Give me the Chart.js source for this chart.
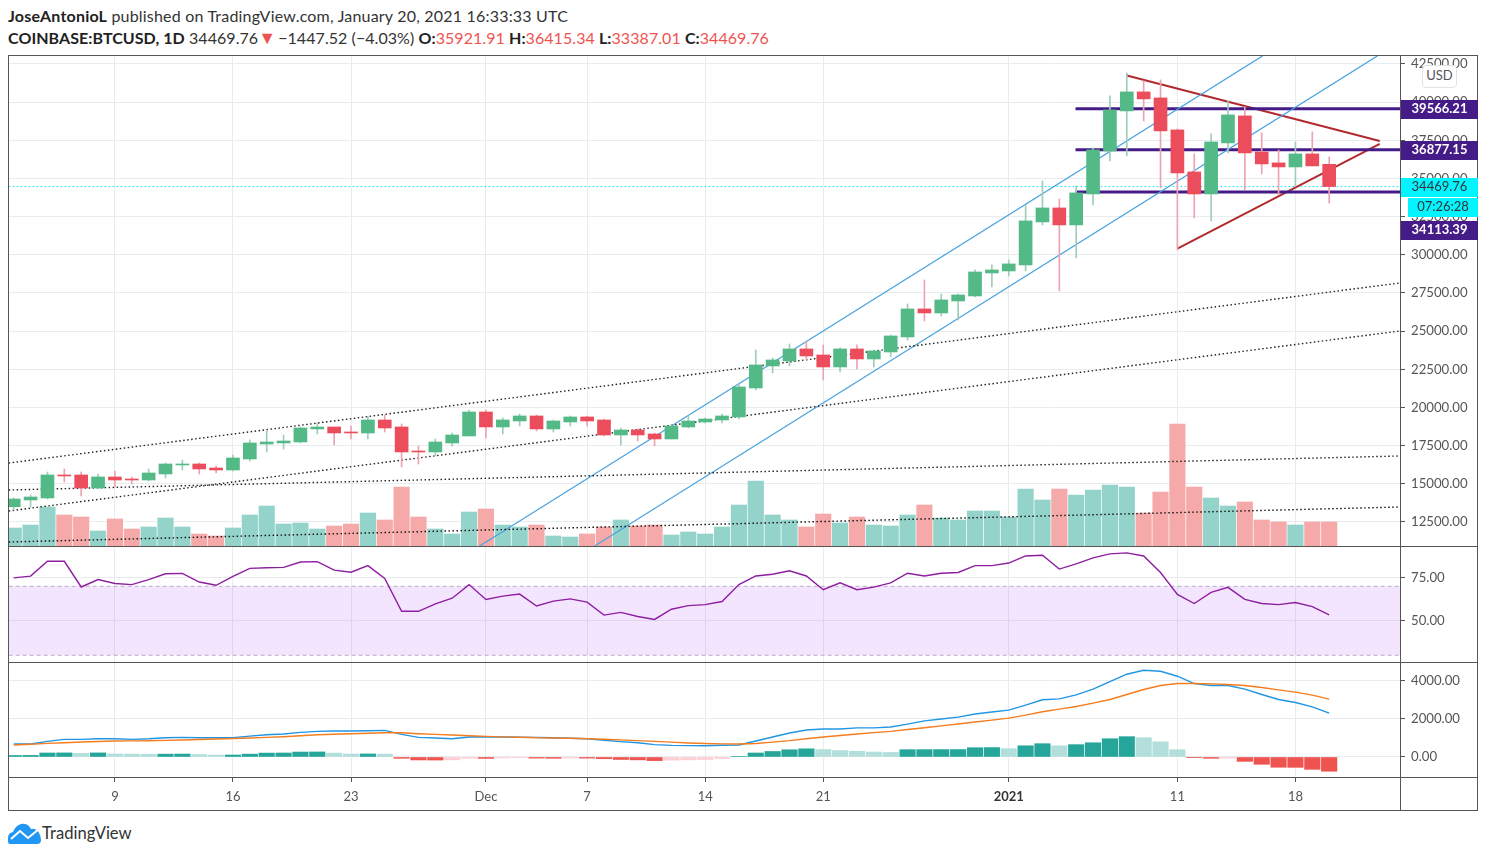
<!DOCTYPE html>
<html>
<head>
<meta charset="utf-8">
<title>BTCUSD</title>
<script src="https://cdn.jsdelivr.net/npm/chart.js@4"></script>
<style>
  body { margin: 0; background: #fff; font-family: Lato, sans-serif; color: #333; }
  canvas { position: absolute; left: 9px; }
  .head { position: absolute; left: 8px; font-size: 16px; white-space: nowrap; line-height: 20px; }
  .head b { font-weight: 700; color: #222; }
  .head i { font-style: normal; color: #ef5350; }
  .rule { position: absolute; background: #555; }
  .tag { position: absolute; left: 1401px; width: 77px; height: 19px; line-height: 17px; font-size: 13px; text-align: center; }
  .purple { background: #451b87; color: #fff; font-weight: 700; }
  .cyan { background: #00f5ff; color: #333; }
  #usd { position: absolute; left: 1422px; top: 65px; width: 33px; height: 21px; line-height: 18px; font-size: 13px; text-align: center;
         background: #fff; border: 1px solid #dfe3e6; border-radius: 4px; color: #555; }
  #logo { position: absolute; left: 8px; top: 823px; }
  #brand { position: absolute; left: 42px; top: 823px; font-size: 16.6px; line-height: 20px; color: #333; }
</style>
</head>
<body>
<div class="head" style="top:6px;letter-spacing:.2px"><b>JoseAntonioL</b> published on TradingView.com, January 20, 2021 16:33:33 UTC</div>
<div class="head" style="top:28px;letter-spacing:.06px"><b>COINBASE:BTCUSD, 1D</b> 34469.76<i style="font-size:18px;line-height:16px;letter-spacing:-2px">▼</i> −1447.52 (−4.03%) <b>O:</b><i>35921.91</i> <b>H:</b><i>36415.34</i> <b>L:</b><i>33387.01</i> <b>C:</b><i>34469.76</i></div>

<canvas id="price_chart" width="1469" height="490" style="top:56px"></canvas>
<canvas id="rsi_chart" width="1469" height="115" style="top:547px"></canvas>
<canvas id="macd_chart" width="1469" height="147" style="top:663px"></canvas>

<div class="rule" style="left:8px;top:55px;width:1470px;height:1px"></div>
<div class="rule" style="left:8px;top:810px;width:1470px;height:1px"></div>
<div class="rule" style="left:8px;top:55px;width:1px;height:756px"></div>
<div class="rule" style="left:1477px;top:55px;width:1px;height:756px"></div>
<div class="rule" style="left:1400px;top:55px;width:1px;height:756px"></div>
<div class="rule" style="left:8px;top:546px;width:1470px;height:1px"></div>
<div class="rule" style="left:8px;top:662px;width:1470px;height:1px"></div>
<div class="rule" style="left:8px;top:777px;width:1470px;height:1px"></div>

<div id="usd">USD</div>
<div class="tag purple" style="top:100px">39566.21</div>
<div class="tag purple" style="top:141px">36877.15</div>
<div class="tag cyan" style="top:178px">34469.76</div>
<div class="tag cyan" style="top:198px;left:1408px;width:70px">07:26:28</div>
<div class="tag purple" style="top:221px">34113.39</div>

<svg id="logo" width="33" height="21" viewBox="0 0 33 21">
  <path fill="#2196f3" d="M2 21 Q0 21 0 18 L0 15 Q0 10 5 9 Q8 2 13 1 Q20 0 23 6 Q28 5 31 10 Q33 13 33 17 Q33 21 29 21 Z"/>
  <path fill="none" stroke="#fff" stroke-width="2" d="M3 16 L12 8 L20 15 L31 6"/>
</svg>
<div id="brand">TradingView</div>

<script>
// candles, Nov 3 2020 .. Jan 20 2021, one entry per day
const candleOpen = [
    13502, 13941, 14072, 15579, 15579, 14727, 15448, 15317, 15251, 15644,
    16234, 16299, 16037, 15906, 16627, 17609, 17675, 17740, 18592, 18723,
    18395, 18330, 19181, 18723, 17151, 17085, 17675, 18133, 19705, 18723,
    19116, 19443, 18592, 19050, 19378, 19181, 18199, 18526, 18264, 17937,
    18723, 19050, 19181, 19378, 21277, 22718, 23046, 23832, 23439, 22653,
    23832, 23177, 23635, 24618, 26452, 26190, 26975, 27303, 28810, 28941,
    29334, 32150, 33067, 31954, 33984, 36800, 39421, 40665, 40272, 38177,
    35424, 33984, 37325, 39094, 36735, 36015, 35752, 36604, 35921.91
];
const candleClose = [
    14006, 14138, 15579, 15513, 14727, 15448, 15251, 15251, 15710, 16299,
    16299, 15972, 15906, 16692, 17675, 17740, 17805, 18657, 18723, 18330,
    18330, 19181, 18657, 17085, 17085, 17740, 18199, 19705, 18723, 19181,
    19443, 18592, 19116, 19378, 19116, 18199, 18526, 18199, 17937, 18788,
    19116, 19247, 19443, 21343, 22784, 23111, 23832, 23373, 22653, 23832,
    23177, 23701, 24683, 26452, 26190, 27041, 27369, 28875, 29006, 29399,
    32216, 33067, 31954, 34050, 36866, 39486, 40665, 40206, 38111, 35359,
    33984, 37390, 39159, 36670, 35949, 35752, 36604, 35818, 34469.76
];
const candleHigh = [
    14072, 14268, 15775, 15972, 15775, 15644, 15841, 15448, 15972, 16365,
    16561, 16365, 16168, 16888, 17871, 18461, 18199, 18723, 18985, 18723,
    18788, 19443, 19509, 18919, 17478, 17937, 18330, 19836, 19836, 19312,
    19574, 19509, 19181, 19443, 19443, 19247, 18657, 18592, 18330, 18854,
    19443, 19312, 19574, 21539, 23766, 23242, 24159, 24356, 24094, 23898,
    24094, 23766, 24749, 26779, 28351, 27434, 27434, 29006, 29334, 29661,
    33264, 34836, 33657, 34508, 36997, 40403, 41910, 41386, 41451, 38241,
    36604, 37914, 40076, 39683, 37979, 36866, 37390, 38045, 36415.34
];
const candleLow = [
    13286, 13482, 14006, 15120, 14203, 14662, 14793, 14989, 15186, 15382,
    15906, 15644, 15710, 15841, 16496, 17085, 17281, 17675, 18264, 17544,
    17937, 17937, 18395, 16103, 16299, 16823, 17478, 18133, 18002, 18264,
    18788, 18461, 18395, 18788, 18788, 18133, 17544, 17805, 17478, 17937,
    18657, 18985, 18985, 19247, 21146, 22260, 22718, 23111, 21801, 22325,
    22522, 22653, 23308, 24421, 25666, 25993, 25731, 27238, 27892, 28613,
    28941, 31954, 27630, 29792, 33264, 36146, 36473, 38766, 34377, 30316,
    32412, 32216, 36670, 34246, 35294, 33919, 34508, 35818, 33387.01
];
const volume = [
    18000, 21000, 39000, 31000, 29000, 15000, 27000, 17000, 19000, 28000,
    19000, 12000, 10000, 18000, 31000, 40000, 22000, 23000, 17000, 20000,
    22000, 33000, 26000, 59000, 29000, 17000, 12000, 34000, 37000, 21000,
    19000, 21000, 10000, 9000, 12000, 19000, 26000, 20000, 21000, 11000,
    14000, 12000, 19000, 41000, 65000, 31000, 26000, 19000, 32000, 23000,
    29000, 21000, 20000, 31000, 41000, 28000, 26000, 35000, 35000, 29000,
    57000, 46000, 57000, 51000, 56000, 61000, 59000, 33000, 54000, 122000,
    59000, 48000, 40000, 44000, 26000, 24000, 21000, 24000, 24000
];
const rsi = [
    74.9, 75.9, 84.5, 84.5, 69.6, 73.9, 71.6, 71, 73.9, 77.3,
    77.5, 72.5, 70.6, 75.7, 80.4, 80.8, 81, 84.1, 84.3, 79.4,
    78.2, 82, 74.5, 55.5, 55.5, 59.8, 63.1, 71, 62.4, 64.3,
    65.5, 58.6, 61.4, 62.7, 60.8, 53.3, 54.9, 52.5, 50.8, 56.7,
    58.8, 59.4, 61.2, 71, 76, 77, 79, 76, 68, 72,
    68, 69.5, 72, 77.6, 76, 77.6, 78, 82, 82, 83.5,
    87.6, 88, 80, 83, 86.5, 88.8, 89.4, 87.6, 78, 65.3,
    60, 66.5, 69.4, 62.4, 60, 59.4, 60.6, 58.2, 53.5
];
const macdLine = [
    682, 682, 820, 927, 927, 960, 960, 927, 960, 1015,
    1032, 1015, 1015, 1015, 1100, 1172, 1207, 1295, 1347, 1365,
    1365, 1382, 1400, 1190, 1032, 997, 960, 1050, 1067, 1050,
    1040, 1030, 1010, 990, 960, 880, 810, 750, 650, 610,
    600, 590, 620, 630, 840, 1050, 1260, 1420, 1470, 1470,
    1530, 1530, 1580, 1730, 1900, 2000, 2100, 2260, 2370, 2467,
    2730, 3010, 3060, 3270, 3570, 3970, 4357, 4567, 4515, 4252,
    3867, 3762, 3762, 3570, 3290, 3027, 2870, 2642, 2310
];
const signalLine = [
    630, 670, 717, 750, 787, 815, 840, 850, 857, 875,
    892, 920, 945, 970, 997, 1030, 1067, 1120, 1172, 1200,
    1225, 1250, 1277, 1277, 1225, 1190, 1155, 1120, 1085, 1060,
    1040, 1010, 1000, 990, 960, 930, 900, 860, 820, 780,
    740, 710, 690, 680, 710, 780, 860, 960, 1050, 1130,
    1210, 1280, 1350, 1450, 1540, 1640, 1740, 1840, 1940, 2047,
    2205, 2380, 2520, 2660, 2835, 3027, 3290, 3552, 3762, 3867,
    3867, 3850, 3815, 3762, 3657, 3535, 3412, 3255, 3045
];
const macdHist = [
    80, 85, 210, 215, 190, 215, 160, 150, 140, 150,
    155, 130, 100, 105, 150, 205, 210, 260, 265, 205,
    155, 160, 150, -70, -155, -160, -150, -70, -75, -50,
    -35, -60, -70, -55, -60, -90, -130, -150, -190, -170,
    -150, -130, -80, 30, 210, 290, 380, 430, 390, 340,
    300, 260, 240, 385, 388, 390, 392, 490, 495, 440,
    590, 700, 590, 650, 750, 960, 1070, 1015, 800, 385,
    -15, -70, -60, -230, -385, -540, -545, -650, -750
];

const priceTicks = [12500, 15000, 17500, 20000, 22500, 25000, 27500, 30000, 32500, 35000, 37500, 40000, 42500];
const rsiTicks = [50, 75];
const macdTicks = [0, 2000, 4000];
const timeTickIndex = [6, 13, 20, 28, 34, 41, 48, 59, 69, 76];
const timeTickLabels = ['9', '16', '23', 'Dec', '7', '14', '21', '2021', '11', '18'];

// drawings on the price pane, [bar index, price]
const dottedA = [[-0.3, 16360], [82.2, 28155]];
const dottedB = [[-0.3, 13220], [82.2, 25010]];
const dottedC = [[-0.3, 14596], [82.2, 16823]];
const dottedD = [[-0.3, 11190], [82.2, 13483]];
const channelUpper = [[27.63, 10928], [74.05, 43023]];
const channelLower = [[34.45, 10928], [80.86, 43023]];
const wedgeUpper = [[66, 41735], [81, 37455]];
const wedgeLower = [[69, 30400], [81, 37260]];
const levelTop = [[62.96, 39566.21], [82.2, 39566.21]];
const levelMid = [[62.96, 36877.15], [82.2, 36877.15]];
const levelLow = [[62.96, 34113.39], [82.2, 34113.39]];
const lastPrice = [[-0.3, 34469.76], [82.2, 34469.76]];
const rsiUpper = [[-0.3, 70], [82.2, 70]];
const rsiLower = [[-0.3, 30], [82.2, 30]];

const UP = '#53b987', DOWN = '#eb4d5c';
const GRID = '#e8ecef', AXIS_TEXT = '#555';
const FONT = 'Lato, sans-serif';
const DOTS = [1.5, 2.5];

function isDown(i) { return candleClose[i] < candleOpen[i]; }

function points(pairs) {
    return pairs.map(function (p) { return { x: p[0], y: p[1] }; });
}

function drawing(pairs, color, width, dash, yAxisID) {
    return {
        type: 'line',
        data: points(pairs),
        borderColor: color,
        borderWidth: width,
        borderDash: dash || [],
        pointRadius: 0,
        tension: 0,
        fill: false,
        yAxisID: yAxisID || 'y',
        order: 2
    };
}

function series(values, color, yAxisID) {
    return drawing(values.map(function (v, i) { return [i, v]; }), color, 1.4, null, yAxisID);
}

function bars(data, colors, thickness, order, yAxisID) {
    return {
        type: 'bar',
        data: data,
        backgroundColor: colors,
        barThickness: thickness,
        grouped: false,
        yAxisID: yAxisID || 'y',
        order: order
    };
}

// the panes share the same x range and the same axis column
function scales(yMin, yMax, yTicks, showTime) {
    return {
        x: {
            type: 'linear',
            offset: false,
            min: -0.28,
            max: 82.2,
            afterBuildTicks: function (axis) {
                axis.ticks = timeTickIndex.map(function (v) { return { value: v }; });
            },
            afterFit: function (axis) {
                axis.paddingLeft = 0;
                axis.paddingRight = 0;
                axis.height = showTime ? 33 : 0;
            },
            grid: { offset: false, color: GRID, drawTicks: showTime, tickLength: 5, tickColor: '#555' },
            border: { display: false },
            ticks: {
                display: showTime,
                autoSkip: false,
                maxRotation: 0,
                padding: 7,
                color: function (ctx) { return ctx.tick && ctx.tick.label === '2021' ? '#333' : AXIS_TEXT; },
                font: function (ctx) {
                    return { family: FONT, size: 13, weight: ctx.tick && ctx.tick.label === '2021' ? 'bold' : 'normal' };
                },
                callback: function (v) { return timeTickLabels[timeTickIndex.indexOf(v)]; }
            }
        },
        y: {
            position: 'right',
            min: yMin,
            max: yMax,
            afterBuildTicks: function (axis) {
                axis.ticks = yTicks.map(function (v) { return { value: v }; });
            },
            afterFit: function (axis) {
                axis.width = 78;
                axis.paddingTop = 0;
                axis.paddingBottom = 0;
            },
            grid: { color: GRID, tickLength: 5, tickColor: '#555' },
            border: { display: false },
            ticks: {
                color: AXIS_TEXT,
                padding: 6,
                font: { family: FONT, size: 13.2 },
                callback: function (v) { return v.toFixed(2); }
            }
        }
    };
}

function baseOptions(chartScales) {
    return {
        responsive: false,
        animation: false,
        layout: { padding: 0 },
        plugins: { legend: { display: false }, tooltip: { enabled: false } },
        scales: chartScales
    };
}

function renderPrice() {
    const idx = candleOpen.map(function (_, i) { return i; });
    const chartScales = scales(10928, 43017, priceTicks, false);
    chartScales.yVolume = { display: false, min: 0, max: 490000 };

    new Chart(document.getElementById('price_chart').getContext('2d'), {
        type: 'bar',
        data: {
            datasets: [
                bars(idx.map(function (i) { return { x: i, y: [candleOpen[i], candleClose[i]] }; }),
                    idx.map(function (i) { return isDown(i) ? DOWN : UP; }), 13, 0),
                bars(idx.map(function (i) { return { x: i, y: [candleLow[i], candleHigh[i]] }; }),
                    idx.map(function (i) { return isDown(i) ? '#eda3b0' : '#9fcdbb'; }), 1, 1),
                drawing(dottedA, '#222', 1.4, DOTS),
                drawing(dottedB, '#222', 1.4, DOTS),
                drawing(dottedC, '#222', 1.4, DOTS),
                drawing(dottedD, '#111', 1.4, DOTS),
                drawing(channelUpper, '#4aa3df', 1.2),
                drawing(channelLower, '#4aa3df', 1.2),
                drawing(levelTop, '#451b87', 3),
                drawing(levelMid, '#451b87', 3),
                drawing(levelLow, '#451b87', 3),
                drawing(wedgeUpper, '#b22a2e', 2),
                drawing(wedgeLower, '#b22a2e', 2),
                drawing(lastPrice, '#00e5f0', 1.2, DOTS),
                bars(idx.map(function (i) { return { x: i, y: volume[i] }; }),
                    idx.map(function (i) { return isDown(i) ? '#f6a9a9' : '#94d3c9'; }), 15.5, 3, 'yVolume')
            ]
        },
        options: baseOptions(chartScales)
    });
}

function renderRsi() {
    const upper = drawing(rsiUpper, '#b9aec6', 1, [4, 3]);
    const lower = drawing(rsiLower, '#b9aec6', 1, [4, 3]);
    lower.fill = '-1';
    lower.backgroundColor = 'rgba(153, 21, 255, 0.11)';
    upper.order = 3;
    lower.order = 3;

    new Chart(document.getElementById('rsi_chart').getContext('2d'), {
        type: 'line',
        data: { datasets: [upper, lower, series(rsi, '#8e1ea0')] },
        options: baseOptions(scales(26.1, 92.8, rsiTicks, false))
    });
}

function histColor(i) {
    const v = macdHist[i], prev = i > 0 ? macdHist[i - 1] : 0;
    if (v >= 0) return v > prev ? '#26a69a' : '#b2dfdb';
    return v < prev ? '#ef5350' : '#ffcdd2';
}

function renderMacd() {
    new Chart(document.getElementById('macd_chart').getContext('2d'), {
        type: 'bar',
        data: {
            datasets: [
                bars(macdHist.map(function (v, i) { return { x: i, y: v }; }),
                    macdHist.map(function (_, i) { return histColor(i); }), 15.5, 3),
                series(signalLine, '#f57c1f'),
                series(macdLine, '#2196e3')
            ]
        },
        options: baseOptions(scales(-1053, 4947, macdTicks, true))
    });
}

renderPrice();
renderRsi();
renderMacd();
</script>
</body>
</html>
